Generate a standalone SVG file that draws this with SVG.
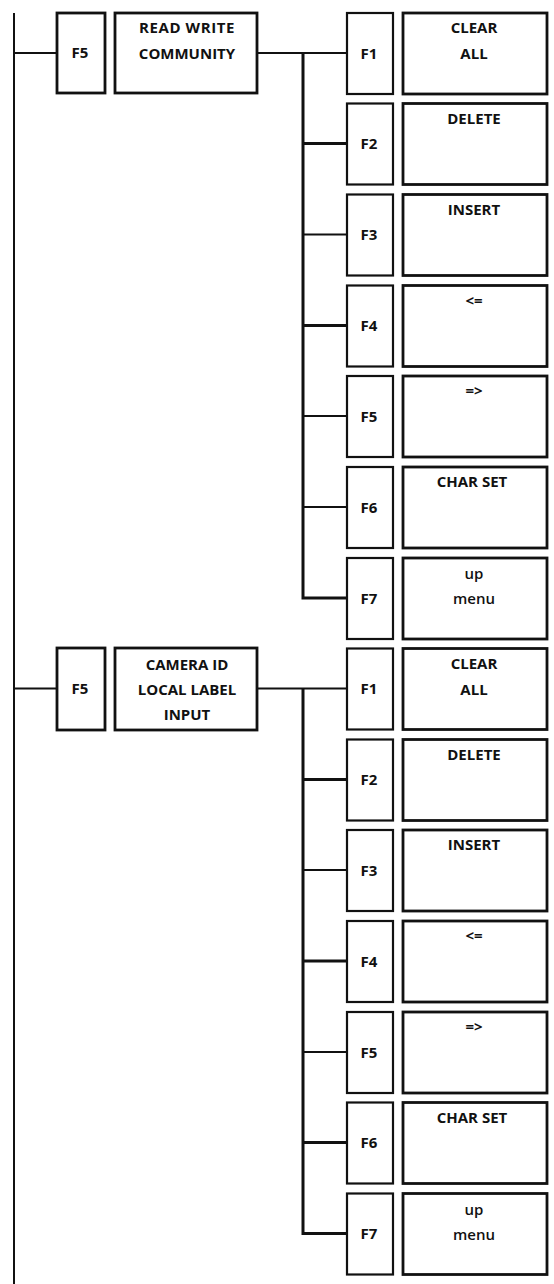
<svg xmlns="http://www.w3.org/2000/svg" width="554" height="1284" viewBox="0 0 554 1284">
<style>
.bx{fill:#fff;stroke:#111;stroke-width:2.2}
.tb{fill:#fff;stroke:#111;stroke-width:2.8}
.ln{stroke:#111;stroke-width:2;fill:none}
.lk{stroke:#111;stroke-width:3;fill:none}
.bus{stroke:#111;stroke-width:3;fill:none}
text{font-family:"Open Sans","Noto Sans","Liberation Sans",sans-serif;font-weight:bold;font-size:15px;fill:#111;text-anchor:middle}
.n{font-weight:600}
</style>
<rect width="554" height="1284" fill="#fff"/>
<g id="connectors">
<line class="ln" x1="14" y1="13" x2="14" y2="1284"/>
<line class="ln" x1="14" y1="53" x2="57" y2="53"/>
<line class="ln" x1="257" y1="53" x2="347" y2="53"/>
<polyline class="bus" points="303,53 303,598 347,598"/>
<line class="lk" x1="303" y1="143.5" x2="347" y2="143.5"/>
<line class="ln" x1="303" y1="234.5" x2="347" y2="234.5"/>
<line class="lk" x1="303" y1="325.5" x2="347" y2="325.5"/>
<line class="ln" x1="303" y1="416" x2="347" y2="416"/>
<line class="ln" x1="303" y1="507" x2="347" y2="507"/>
<line class="ln" x1="14" y1="688.5" x2="57" y2="688.5"/>
<line class="ln" x1="257" y1="688.5" x2="347" y2="688.5"/>
<polyline class="bus" points="303,688.5 303,1233.5 347,1233.5"/>
<line class="lk" x1="303" y1="779.5" x2="347" y2="779.5"/>
<line class="ln" x1="303" y1="870" x2="347" y2="870"/>
<line class="lk" x1="303" y1="961" x2="347" y2="961"/>
<line class="ln" x1="303" y1="1052" x2="347" y2="1052"/>
<line class="lk" x1="303" y1="1142.5" x2="347" y2="1142.5"/>
</g>
<g id="g1-f5"><rect class="tb" x="57" y="13" width="48" height="80"/><text x="80" y="58">F5</text></g>
<g id="g1-rwc"><rect class="tb" x="115" y="13" width="142" height="80"/><text x="187" y="33" letter-spacing="0.6">READ WRITE</text><text x="187" y="59">COMMUNITY</text></g>
<g id="g1-r1"><rect class="bx" x="347" y="13" width="46" height="81"/><text x="369" y="58.5">F1</text><rect class="tb" x="403" y="13" width="144" height="81"/><text x="474" y="33">CLEAR</text><text x="474" y="59">ALL</text></g>
<g id="g1-r2"><rect class="bx" x="347" y="103.5" width="46" height="81"/><text x="369" y="149">F2</text><rect class="tb" x="403" y="103.5" width="144" height="81"/><text x="474" y="123.5">DELETE</text></g>
<g id="g1-r3"><rect class="bx" x="347" y="194.5" width="46" height="81"/><text x="369" y="240">F3</text><rect class="tb" x="403" y="194.5" width="144" height="81"/><text x="474" y="214.5">INSERT</text></g>
<g id="g1-r4"><rect class="bx" x="347" y="285.5" width="46" height="81"/><text x="369" y="331">F4</text><rect class="tb" x="403" y="285.5" width="144" height="81"/><text x="474" y="305.5">&lt;=</text></g>
<g id="g1-r5"><rect class="bx" x="347" y="376" width="46" height="81"/><text x="369" y="421.5">F5</text><rect class="tb" x="403" y="376" width="144" height="81"/><text x="474" y="396">=&gt;</text></g>
<g id="g1-r6"><rect class="bx" x="347" y="467" width="46" height="81"/><text x="369" y="512.5">F6</text><rect class="tb" x="403" y="467" width="144" height="81"/><text x="472" y="487">CHAR SET</text></g>
<g id="g1-r7"><rect class="bx" x="347" y="558" width="46" height="81"/><text x="369" y="603.5">F7</text><rect class="tb" x="403" y="558" width="144" height="81"/><text class="n" x="474" y="579">up</text><text class="n" x="474" y="604">menu</text></g>
<g id="g2-f5"><rect class="tb" x="57" y="648" width="48" height="82"/><text x="80" y="694">F5</text></g>
<g id="g2-cam"><rect class="tb" x="115" y="648" width="142" height="82"/><text x="187" y="670">CAMERA ID</text><text x="187" y="695">LOCAL LABEL</text><text x="187" y="719.5">INPUT</text></g>
<g id="g2-r1"><rect class="bx" x="347" y="648.5" width="46" height="81"/><text x="369" y="694">F1</text><rect class="tb" x="403" y="648.5" width="144" height="81"/><text x="474" y="668.5">CLEAR</text><text x="474" y="694.5">ALL</text></g>
<g id="g2-r2"><rect class="bx" x="347" y="739.5" width="46" height="81"/><text x="369" y="785">F2</text><rect class="tb" x="403" y="739.5" width="144" height="81"/><text x="474" y="759.5">DELETE</text></g>
<g id="g2-r3"><rect class="bx" x="347" y="830" width="46" height="81"/><text x="369" y="875.5">F3</text><rect class="tb" x="403" y="830" width="144" height="81"/><text x="474" y="850">INSERT</text></g>
<g id="g2-r4"><rect class="bx" x="347" y="921" width="46" height="81"/><text x="369" y="966.5">F4</text><rect class="tb" x="403" y="921" width="144" height="81"/><text x="474" y="941">&lt;=</text></g>
<g id="g2-r5"><rect class="bx" x="347" y="1012" width="46" height="81"/><text x="369" y="1057.5">F5</text><rect class="tb" x="403" y="1012" width="144" height="81"/><text x="474" y="1032">=&gt;</text></g>
<g id="g2-r6"><rect class="bx" x="347" y="1102.5" width="46" height="81"/><text x="369" y="1148">F6</text><rect class="tb" x="403" y="1102.5" width="144" height="81"/><text x="472" y="1122.5">CHAR SET</text></g>
<g id="g2-r7"><rect class="bx" x="347" y="1193.5" width="46" height="81"/><text x="369" y="1239">F7</text><rect class="tb" x="403" y="1193.5" width="144" height="81"/><text class="n" x="474" y="1214.5">up</text><text class="n" x="474" y="1239.5">menu</text></g>
</svg>
